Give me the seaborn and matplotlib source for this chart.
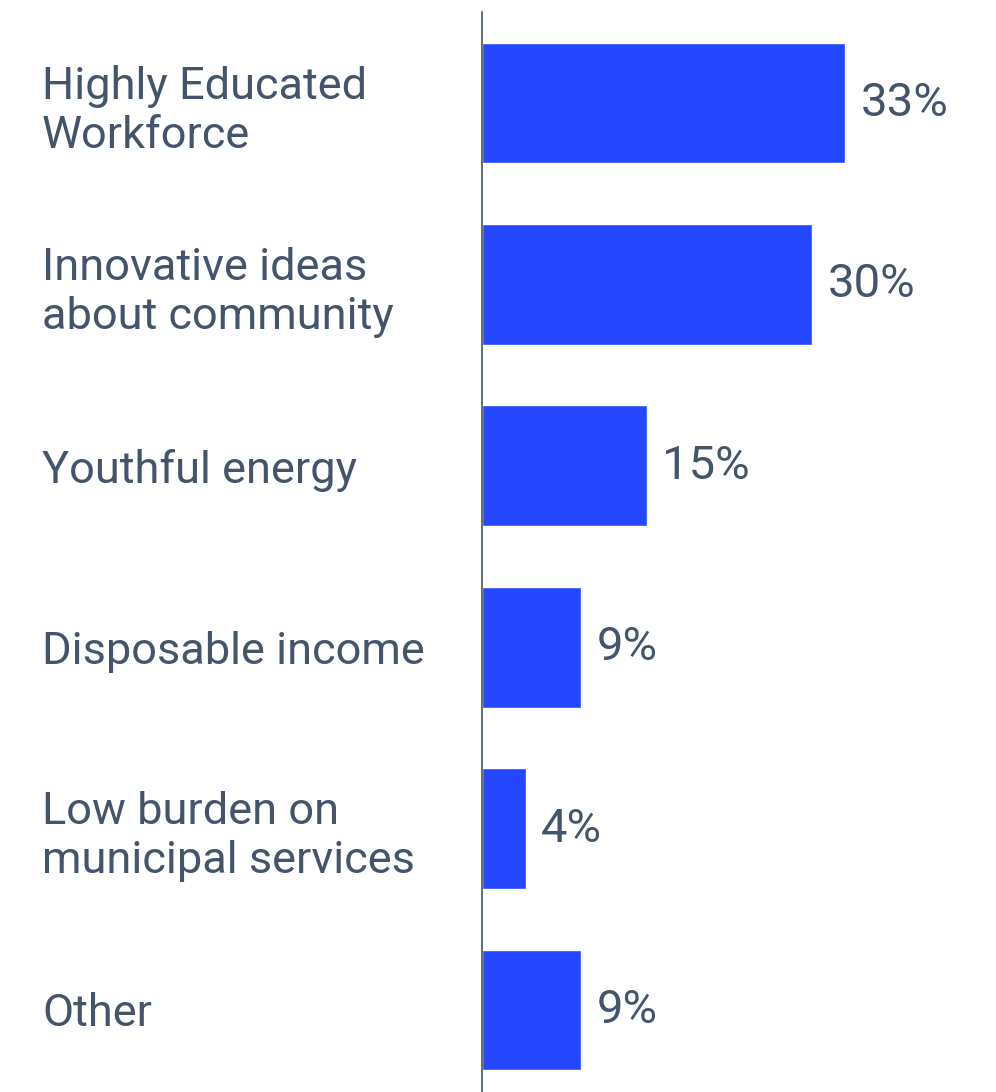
import matplotlib
matplotlib.use("Agg")
import matplotlib.pyplot as plt
import seaborn as sns
import pandas as pd

categories = [
    "Highly Educated\nWorkforce",
    "Innovative ideas\nabout community",
    "Youthful energy",
    "Disposable income",
    "Low burden on\nmunicipal services",
    "Other",
]
shares = [33, 30, 15, 9, 4, 9]

bar_color = "#2447FF"
text_color = "#44546A"

sns.set_theme(style="white")
plt.rcParams["font.family"] = ["Roboto", "DejaVu Sans"]

df = pd.DataFrame({"category": categories, "share": shares})

fig = plt.figure(figsize=(9.96, 10.92), dpi=100)
ax = fig.add_axes([482 / 996, -8.7 / 1092, 1 - 482 / 996, 1088.4 / 1092])

sns.barplot(data=df, x="share", y="category", color=bar_color, saturation=1,
            width=0.665, orient="h", ax=ax)

ax.set_xlim(0, (996 - 482) / 11)
ax.set_ylim(5.5, -0.5)

for i, v in enumerate(shares):
    ax.annotate(f"{v}%", xy=(v, i), xytext=(11, 0), textcoords="offset points",
                va="center", ha="left", fontsize=34, color=text_color)

ax.set_yticks(range(len(categories)))
ax.set_yticklabels(categories, fontsize=32.5, color=text_color, ha="left",
                   linespacing=1.22)
ax.tick_params(axis="y", length=0, pad=440 * 0.72)
ax.set_xticks([])
ax.set_xlabel("")
ax.set_ylabel("")

for side in ["top", "right", "bottom"]:
    ax.spines[side].set_visible(False)
ax.spines["left"].set_color(text_color)
ax.spines["left"].set_linewidth(1.2)

fig.savefig("out.png", dpi=100, facecolor="white")
